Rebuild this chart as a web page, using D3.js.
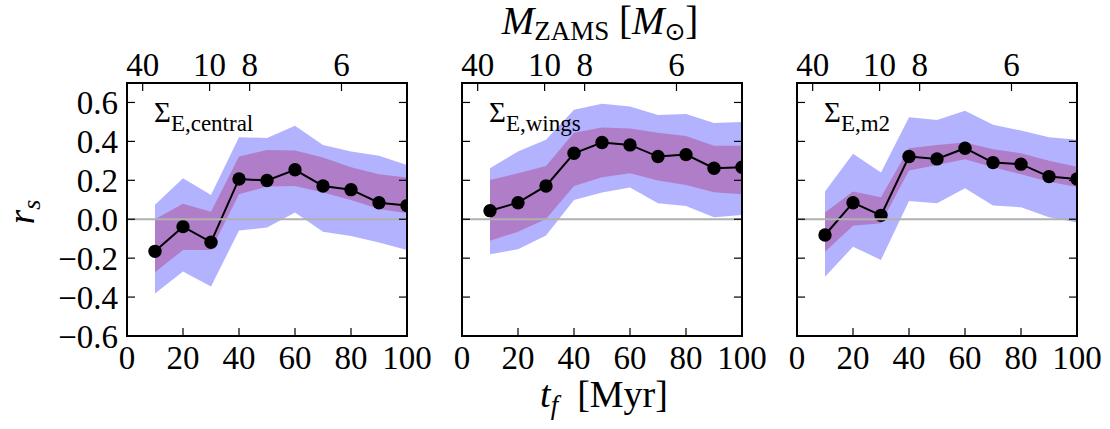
<!DOCTYPE html>
<html><head><meta charset="utf-8">
<script src="https://cdn.jsdelivr.net/npm/d3@7"></script>
<style>body{margin:0;background:#fff}svg{display:block}</style>
</head><body>
<svg id="c" width="1110" height="429"></svg>
<script>
// ---- data ----
const tf = [10,20,30,40,50,60,70,80,90,100];
const panelNames = ["E,central","E,wings","E,m2"];
const medCentral = [-0.165,-0.038,-0.118,0.207,0.199,0.254,0.171,0.152,0.085,0.070];
const in1Central = [-0.272,-0.158,-0.158,0.128,0.168,0.171,0.137,0.099,0.053,0.031];
const in2Central = [0.000,0.079,0.039,0.322,0.356,0.353,0.317,0.267,0.231,0.214];
const out1Central = [-0.381,-0.269,-0.346,-0.058,-0.043,0.034,-0.064,-0.086,-0.120,-0.158];
const out2Central = [0.074,0.211,0.125,0.421,0.418,0.480,0.382,0.348,0.326,0.279];

const medWings = [0.044,0.085,0.171,0.339,0.394,0.382,0.322,0.332,0.262,0.267];
const in1Wings = [-0.110,-0.064,0.001,0.171,0.216,0.236,0.199,0.176,0.139,0.128];
const in2Wings = [0.202,0.236,0.274,0.445,0.471,0.466,0.445,0.428,0.377,0.377];
const out1Wings = [-0.180,-0.154,-0.084,0.099,0.137,0.163,0.082,0.068,0.010,0.022];
const out2Wings = [0.262,0.348,0.408,0.562,0.593,0.579,0.536,0.541,0.494,0.499];

const medM2 = [-0.081,0.085,0.020,0.322,0.310,0.365,0.291,0.283,0.219,0.207];
const in1M2 = [-0.167,-0.034,-0.021,0.250,0.279,0.308,0.267,0.231,0.193,0.165];
const in2M2 = [0.034,0.142,0.113,0.365,0.382,0.394,0.360,0.339,0.300,0.270];
const out1M2 = [-0.295,-0.141,-0.209,0.094,0.082,0.159,0.070,0.062,0.010,-0.017];
const out2M2 = [0.142,0.336,0.240,0.524,0.510,0.558,0.485,0.456,0.421,0.408];

const xTicks = [0,20,40,60,80,100];
const yTicks = [-0.6,-0.4,-0.2,0.0,0.2,0.4,0.6];
const massLabels = ["40","10","8","6"];
const massLifetimes = [5.6,29.5,43.8,76.6];

const panels = [
  {name:panelNames[0], med:medCentral, in1:in1Central, in2:in2Central, out1:out1Central, out2:out2Central},
  {name:panelNames[1], med:medWings, in1:in1Wings, in2:in2Wings, out1:out1Wings, out2:out2Wings},
  {name:panelNames[2], med:medM2, in1:in1M2, in2:in2M2, out1:out1M2, out2:out2M2}
];

// ---- layout ----
const svg = d3.select("#c");
const FONT = "'Liberation Serif','DejaVu Serif',serif";
const lefts = [127, 462, 797];
const W = 280, yTop = 83, yBot = 336;
const y = d3.scaleLinear().domain([-0.6,0.7]).range([yBot, yTop]);
const fmtY = v => (v<0?"\u2212":"") + Math.abs(v).toFixed(1);

panels.forEach((p,i) => {
  const x0 = lefts[i];
  const x = d3.scaleLinear().domain([0,100]).range([x0, x0+W]);
  const g = svg.append("g");
  const cid = "clip"+i;
  svg.append("clipPath").attr("id",cid).append("rect")
    .attr("x",x0).attr("y",yTop).attr("width",W).attr("height",yBot-yTop);
  const pg = g.append("g").attr("clip-path",`url(#${cid})`);
  const area = (lo,hi) => d3.area().x((d,k)=>x(tf[k])).y0((d,k)=>y(lo[k])).y1((d,k)=>y(hi[k]))(tf);
  pg.append("path").attr("d",area(p.out1,p.out2)).attr("fill","#b2b2ff");
  pg.append("path").attr("d",area(p.in1,p.in2)).attr("fill","#b07ec8");
  pg.append("path").attr("d",d3.line().x((d,k)=>x(tf[k])).y((d,k)=>y(p.med[k]))(tf))
    .attr("fill","none").attr("stroke","#000").attr("stroke-width",2);
  pg.selectAll("circle").data(tf).join("circle")
    .attr("cx",(d)=>x(d)).attr("cy",(d,k)=>y(p.med[k])).attr("r",6.7).attr("fill","#000");
  pg.append("line").attr("x1",x0).attr("x2",x0+W).attr("y1",y(0)).attr("y2",y(0))
    .attr("stroke","#b0b0b0").attr("stroke-width",2);

  // ticks
  const tl = 8;
  const tk = g.append("g").attr("stroke","#000").attr("stroke-width",1.2);
  xTicks.forEach(v => {
    tk.append("line").attr("x1",x(v)).attr("x2",x(v)).attr("y1",yBot).attr("y2",yBot-tl);
  });
  massLifetimes.forEach(v => {
    tk.append("line").attr("x1",x(v)).attr("x2",x(v)).attr("y1",yTop).attr("y2",yTop+tl);
  });
  yTicks.forEach(v => {
    tk.append("line").attr("x1",x0).attr("x2",x0+tl).attr("y1",y(v)).attr("y2",y(v));
    tk.append("line").attr("x1",x0+W).attr("x2",x0+W-tl).attr("y1",y(v)).attr("y2",y(v));
  });
  g.append("rect").attr("x",x0).attr("y",yTop).attr("width",W).attr("height",yBot-yTop)
    .attr("fill","none").attr("stroke","#000").attr("stroke-width",2);

  // tick labels
  xTicks.forEach(v => {
    g.append("text").attr("x",x(v)).attr("y",369).attr("text-anchor","middle")
      .attr("font-family",FONT).attr("font-size",33).text(v);
  });
  massLifetimes.forEach((v,k) => {
    g.append("text").attr("x",x(v)).attr("y",76).attr("text-anchor","middle")
      .attr("font-family",FONT).attr("font-size",33).text(massLabels[k]);
  });
  if (i===0) {
    yTicks.forEach(v => {
      g.append("text").attr("x",x0-9).attr("y",y(v)+11.5).attr("text-anchor","end")
        .attr("font-family",FONT).attr("font-size",33).text(fmtY(v));
    });
  }
  // panel label
  const lt = g.append("text").attr("x",x0+27).attr("y",122).attr("font-family",FONT);
  lt.append("tspan").attr("font-size",29).text("\u03A3");
  lt.append("tspan").attr("font-size",23).attr("dy",9).text(p.name);
});

// axis titles
const bt = svg.append("text").attr("x",604).attr("y",407).attr("text-anchor","middle").attr("font-family",FONT);
bt.append("tspan").attr("font-size",38).attr("font-style","italic").text("t");
bt.append("tspan").attr("font-size",27).attr("font-style","italic").attr("dy",7).text("f");
bt.append("tspan").attr("font-size",38).attr("dy",-7).text("\u2002[Myr]");

const tt = svg.append("text").attr("x",600).attr("y",34).attr("text-anchor","middle").attr("font-family",FONT);
tt.append("tspan").attr("font-size",39).attr("font-style","italic").text("M");
tt.append("tspan").attr("font-size",27).attr("dy",6).text("ZAMS");
tt.append("tspan").attr("font-size",39).attr("dy",-6).text(" [");
tt.append("tspan").attr("font-size",39).attr("font-style","italic").text("M");
tt.append("tspan").attr("font-size",25).attr("dy",6).attr("font-family","'DejaVu Sans',sans-serif").text("\u2299");
tt.append("tspan").attr("font-size",39).attr("dy",-6).text("]");

const yl = svg.append("text").attr("transform","translate(34,212) rotate(-90)")
  .attr("text-anchor","middle").attr("font-family",FONT);
yl.append("tspan").attr("font-size",37).attr("font-style","italic").text("r");
yl.append("tspan").attr("font-size",26).attr("font-style","italic").attr("dy",6).text("s");
</script>
</body></html>
